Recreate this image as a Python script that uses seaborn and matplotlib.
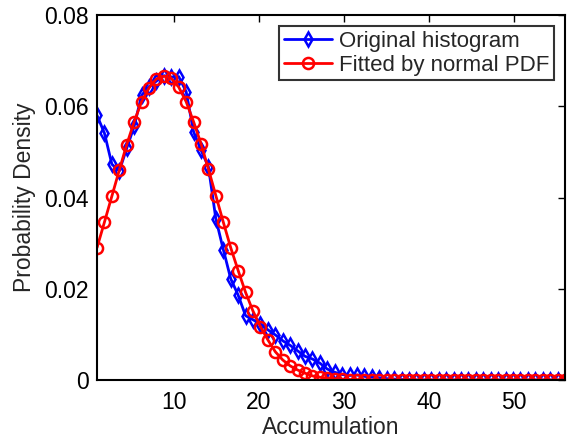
import numpy as np
import pandas as pd
import matplotlib
matplotlib.use("Agg")
import matplotlib.pyplot as plt
import seaborn as sns

# Bin centres of the accumulation histogram
accumulation = np.linspace(1, 56, 64)

original_hist = [
    0.0580, 0.0541, 0.0473, 0.0458, 0.0508, 0.0556, 0.0624, 0.0643,
    0.0655, 0.0667, 0.0664, 0.0665, 0.0632, 0.0544, 0.0504, 0.0467,
    0.0353, 0.0286, 0.0222, 0.0186, 0.0141, 0.0132, 0.0123, 0.0110,
    0.0099, 0.0086, 0.0076, 0.0064, 0.0052, 0.0046, 0.0037, 0.0024,
    0.0017, 0.0012, 0.0010, 0.0011, 0.0008, 0.0006, 0.0005, 0.0003,
    0.0002, 0.0001, 0.0001, 0.0, 0.0, 0.0, 0.0, 0.0,
    0.0, 0.0, 0.0, 0.0, 0.0, 0.0, 0.0, 0.0,
    0.0, 0.0, 0.0, 0.0, 0.0, 0.0, 0.0, 0.0,
]

fitted_pdf = [
    0.0290, 0.0346, 0.0403, 0.0460, 0.0516, 0.0566, 0.0610, 0.0640,
    0.0660, 0.0666, 0.0661, 0.0642, 0.0610, 0.0566, 0.0518, 0.0462,
    0.0404, 0.0346, 0.0290, 0.0240, 0.0192, 0.0151, 0.0117, 0.0088,
    0.0062, 0.0044, 0.0031, 0.0022, 0.0015, 0.0009, 0.0006, 0.0004,
    0.0003, 0.0002, 0.0001, 0.0001, 0.0, 0.0, 0.0, 0.0,
    0.0, 0.0, 0.0, 0.0, 0.0, 0.0, 0.0, 0.0,
    0.0, 0.0, 0.0, 0.0, 0.0, 0.0, 0.0, 0.0,
    0.0, 0.0, 0.0, 0.0, 0.0, 0.0, 0.0, 0.0,
]

x_ticks = [10, 20, 30, 40, 50]
y_ticks = [0, 0.02, 0.04, 0.06, 0.08]
y_tick_labels = ["0", "0.02", "0.04", "0.06", "0.08"]

sns.set_style("white")
plt.rcParams["font.family"] = ["Liberation Sans", "DejaVu Sans"]
plt.rcParams["font.size"] = 16

df = pd.DataFrame({
    "Accumulation": accumulation,
    "Original histogram": original_hist,
    "Fitted by normal PDF": fitted_pdf,
})

fig = plt.figure(figsize=(5.68, 4.41), dpi=100)
ax = fig.add_axes([0.1708, 0.1383, 0.8239, 0.8277])

sns.lineplot(data=df, x="Accumulation", y="Original histogram", ax=ax,
             color="#0000ff", linewidth=2.0, marker="d", markersize=7.5,
             markerfacecolor="none", markeredgecolor="#0000ff",
             markeredgewidth=1.8, label="Original histogram")
sns.lineplot(data=df, x="Accumulation", y="Fitted by normal PDF", ax=ax,
             color="#ff0000", linewidth=2.0, marker="o", markersize=8,
             markerfacecolor="none", markeredgecolor="#ff0000",
             markeredgewidth=1.8, label="Fitted by normal PDF")

ax.set_xlim(1, 56)
ax.set_ylim(0, 0.08)
ax.set_xticks(x_ticks)
ax.set_yticks(y_ticks)
ax.set_yticklabels(y_tick_labels)
ax.set_xlabel("Accumulation", fontsize=16.5, labelpad=1)
ax.set_ylabel("Probability Density", fontsize=16.5, labelpad=6)

for side in ["left", "right", "top", "bottom"]:
    ax.spines[side].set_visible(True)
    ax.spines[side].set_color("black")
    ax.spines[side].set_linewidth(1.5)
ax.tick_params(direction="in", length=5, width=1, top=True, right=True,
               labelsize=16.5, colors="black")
ax.tick_params(axis="x", pad=8)
ax.tick_params(axis="y", pad=6)

leg = ax.legend(loc="upper right", fontsize=16, frameon=True, fancybox=False,
                edgecolor="black", handlelength=2.2, handletextpad=0.3,
                borderpad=0.2, labelspacing=0.15, borderaxespad=0.5)
leg.get_frame().set_linewidth(1.5)

fig.savefig("out.png", dpi=100, facecolor="white")
